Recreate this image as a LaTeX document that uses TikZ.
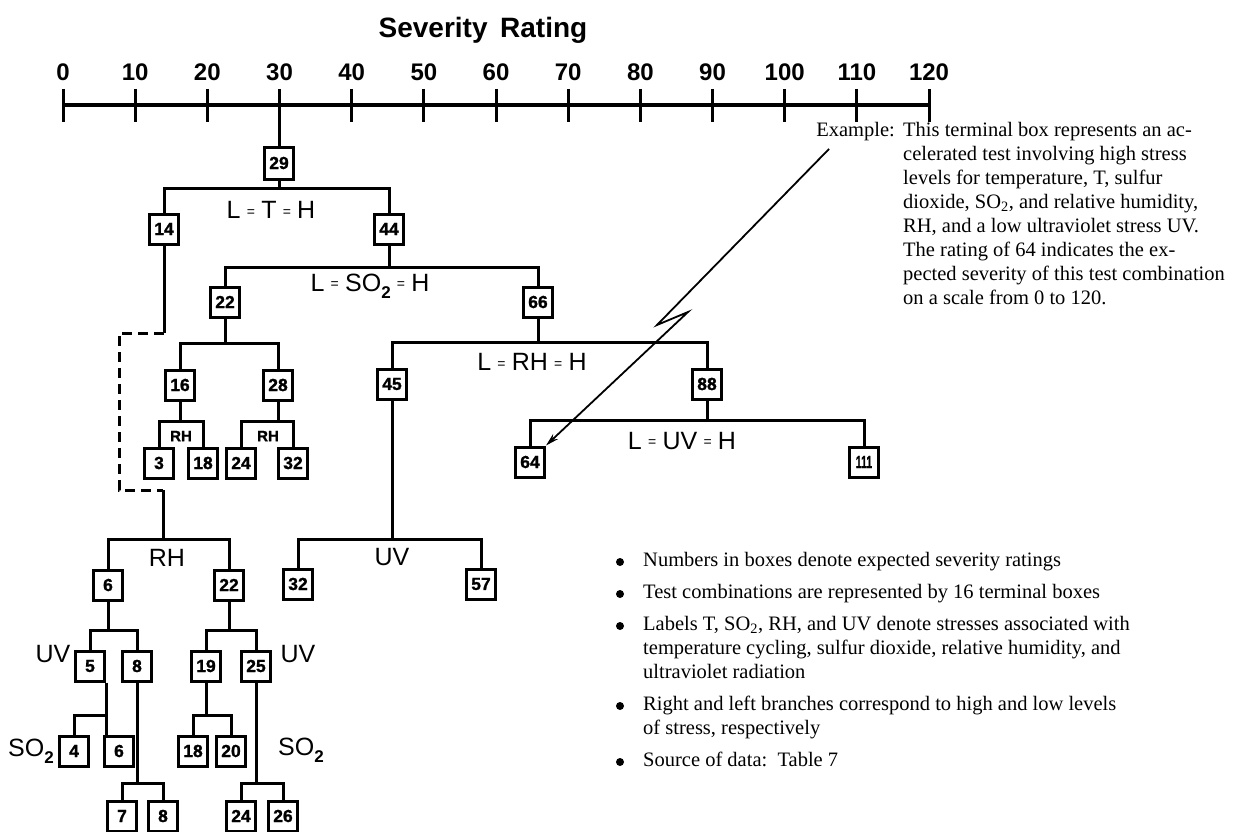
\documentclass[tikz,border=0pt]{standalone}
\usepackage{fontspec}
\usepackage{graphicx}
\setmainfont{Liberation Serif}
\setsansfont{Liberation Sans}
\newfontfamily\boxfont[FakeBold=1.2]{Liberation Sans Bold}
\usetikzlibrary{arrows.meta}
\newcommand{\smeq}{\hspace{0.25em}\raisebox{0.1em}{\fontsize{14}{14}\selectfont =}\hspace{0.25em}}
\newcommand{\subtwo}{\raisebox{-0.28em}{\fontsize{17}{17}\selectfont\bfseries 2}}
\newcommand{\brsplit}[4]{%
  \draw[ln] (#1.south) -- (#1.south |- #4);
  \draw[ln] (#2.north) |- (#3.north |- #4) -- (#3.north);}
\begin{document}
\begin{tikzpicture}[x=1pt,y=-1pt,
  ln/.style={line width=3pt},
  bx/.style={draw, line width=3pt, minimum width=29pt, minimum height=30pt, inner sep=0pt,
    font=\boxfont\fontsize{17.5}{17.5}\selectfont},
  lab/.style={font=\sffamily\fontsize{25}{25}\selectfont, inner sep=0pt},
  smlab/.style={font=\boxfont\fontsize{15}{15}\selectfont, inner sep=0pt},
  ticklab/.style={font=\sffamily\bfseries\fontsize{24}{24}\selectfont, inner sep=0pt},
  txt/.style={font=\fontsize{20.5}{24}\selectfont, inner sep=0pt, align=left},
  bul/.style={circle, fill, inner sep=0pt, minimum size=8pt}
]
\useasboundingbox (0,0) rectangle (1236,832);
\fill[white] (0,0) rectangle (1236,832);

% ---- scale ----
\node[font=\sffamily\bfseries\fontsize{28}{28}\selectfont, inner sep=0pt] (title) at (483,30) {Severity\hspace{0.45em}Rating};
\coordinate (ax0) at (63,105);
\coordinate (ax1) at (929,105);
\draw[line width=4.5pt] (ax0) -- (ax1);
\foreach \v in {0,10,...,120} {
  \draw[line width=3pt] ({63+7.217*\v},89) -- ({63+7.217*\v},122);
  \node[ticklab] (t\v) at ({63+7.217*\v},72) {\v};
}

% ---- bar levels ----
\coordinate (yAx) at (0,105);
\coordinate (yb1) at (0,188);
\coordinate (yb2) at (0,267);
\coordinate (yb3) at (0,343);
\coordinate (yb4) at (0,421);
\coordinate (yb5) at (0,342);
\coordinate (yb6) at (0,420);
\coordinate (yb7) at (0,539);
\coordinate (yb8) at (0,630);
\coordinate (yb9) at (0,715);
\coordinate (yb10) at (0,783);

% ---- boxes ----
\node[bx, minimum height=32pt] (n29) at (279,163) {29};
\node[bx] (n14) at (164,229) {14};
\node[bx] (n44) at (389,229) {44};
\node[bx] (n22) at (225,302) {22};
\node[bx] (n66) at (538,302) {66};
\node[bx] (n16) at (180,385) {16};
\node[bx] (n28) at (278,385) {28};
\node[bx] (n3) at (159,463) {3};
\node[bx] (n18) at (203,463) {18};
\node[bx] (n24) at (241,463) {24};
\node[bx] (n32) at (293,463) {32};
\node[bx] (n45) at (392,384) {45};
\node[bx] (n88) at (707,384) {88};
\node[bx] (n64) at (530,462) {64};
\node[bx] (n111) at (864,462) {\scalebox{0.6}[1]{111}};
\node[bx] (n32b) at (298,584) {32};
\node[bx] (n57) at (481,584) {57};
\node[bx] (n6) at (108,585) {6};
\node[bx] (n22b) at (229,585) {22};
\node[bx] (n5) at (90,666) {5};
\node[bx] (n8) at (137,666) {8};
\node[bx] (n4) at (74,751) {4};
\node[bx] (n6b) at (119,751) {6};
\node[bx] (n7) at (122,816) {7};
\node[bx] (n8b) at (163,816) {8};
\node[bx] (n19) at (206,666) {19};
\node[bx] (n25) at (256,666) {25};
\node[bx] (n18b) at (193,751) {18};
\node[bx] (n20) at (231,751) {20};
\node[bx] (n24b) at (241,816) {24};
\node[bx] (n26) at (283,816) {26};

% ---- connectors ----
\draw[ln] (n29.north) -- (n29.north |- yAx);
\brsplit{n29}{n14}{n44}{yb1}
\brsplit{n44}{n22}{n66}{yb2}
\brsplit{n22}{n16}{n28}{yb3}
\brsplit{n16}{n3}{n18}{yb4}
\brsplit{n28}{n24}{n32}{yb4}
\brsplit{n66}{n45}{n88}{yb5}
\brsplit{n88}{n64}{n111}{yb6}
\brsplit{n45}{n32b}{n57}{yb7}
\brsplit{n6}{n5}{n8}{yb8}
\brsplit{n22b}{n19}{n25}{yb8}
\brsplit{n19}{n18b}{n20}{yb9}
\brsplit{n8}{n7}{n8b}{yb10}
\brsplit{n25}{n24b}{n26}{yb10}
\draw[ln] (n5.south east) -- (n5.south east |- n6b.north);
\draw[ln] (n4.north) |- (n5.south east |- yb9);

% dashed link from 14 to the lower tree
\coordinate (dA) at (119,333);
\coordinate (dB) at (119,490);
\coordinate (dC) at (163,490);
\draw[ln] (n14.south) -- (n14.south |- dA);
\draw[ln, dash pattern=on 10pt off 6pt] (n14.south |- dA) -- (dA) -- (dB) -- (dC);
\draw[ln] (dC) -- (dC |- yb7);
\draw[ln] (n6.north) |- (n22b.north |- yb7) -- (n22b.north);

% ---- labels ----
\node[lab] (lT) at (271,210) {L\smeq T\smeq H};
\node[lab] (lS) at (370,286) {L\smeq SO\subtwo\smeq H};
\node[lab] (lR) at (532,362) {L\smeq RH\smeq H};
\node[lab] (lU) at (682,441) {L\smeq UV\smeq H};
\node[smlab] (rh1) at (181,436) {RH};
\node[smlab] (rh2) at (268,436) {RH};
\node[lab] (rh3) at (167,558) {RH};
\node[lab] (uv1) at (392,557) {UV};
\node[lab] (uv2) at (53,654) {UV};
\node[lab] (uv3) at (298,654) {UV};
\node[lab] (so1) at (31,751) {SO\subtwo};
\node[lab] (so2) at (301,750) {SO\subtwo};

% ---- example ----
\node[txt, anchor=north west] (ex) at (903,122) {This terminal box represents an ac-\\
celerated test involving high stress\\
levels for temperature, T, sulfur\\
dioxide, SO\textsubscript{2}, and relative humidity,\\
RH, and a low ultraviolet stress UV.\\
The rating of 64 indicates the ex-\\
pected severity of this test combination\\
on a scale from 0 to 120.};
\node[txt, anchor=north east] (exl) at ([xshift=-8pt]ex.north west) {Example:};
\coordinate (aS) at (829,149);
\coordinate (aA) at (657,325);
\coordinate (aB) at (688,312);
\draw[line width=1.8pt, -{Stealth[length=13pt,width=7pt]}] (aS) -- (aA) -- (aB) -- (n64.north east);

% ---- notes ----
\node[bul] (b1) at (620,562) {};
\node[txt, anchor=north west] (p1) at (643,552) {Numbers in boxes denote expected severity ratings};
\node[bul] (b2) at (620,594) {};
\node[txt, anchor=north west] (p2) at (643,584) {Test combinations are represented by 16 terminal boxes};
\node[bul] (b3) at (620,626) {};
\node[txt, anchor=north west] (p3) at (643,616) {Labels T, SO\textsubscript{2}, RH, and UV denote stresses associated with\\
temperature cycling, sulfur dioxide, relative humidity, and\\
ultraviolet radiation};
\node[bul] (b4) at (620,706) {};
\node[txt, anchor=north west] (p4) at (643,696) {Right and left branches correspond to high and low levels\\
of stress, respectively};
\node[bul] (b5) at (620,762) {};
\node[txt, anchor=north west] (p5) at (643,752) {Source of data:\ \ Table 7};
\end{tikzpicture}
\end{document}
